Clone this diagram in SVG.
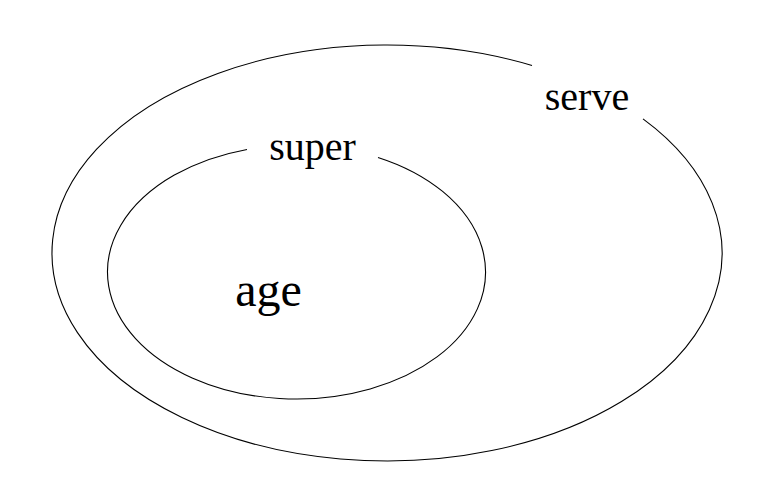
<svg xmlns="http://www.w3.org/2000/svg" width="762" height="497" viewBox="0 0 762 497">
<style>
.set{fill:none;stroke:#000;stroke-width:1.1}
.lbl{font-family:"Liberation Serif","DejaVu Serif",serif;fill:#000;text-anchor:middle}
</style>
<rect width="762" height="497" fill="#fff"/>
<g id="connectors"></g>
<g id="serve">
<path class="set" d="M 643 118.84 A 335 208 0 1 1 532 65.49"/>
<text class="lbl" x="587" y="110" font-size="40">serve</text>
</g>
<g id="super">
<path class="set" d="M 378 157.41 A 189 127 0 1 1 247 149.43"/>
<text class="lbl" x="312.5" y="160" font-size="40">super</text>
</g>
<g id="age">
<text class="lbl" x="268.5" y="306" font-size="48">age</text>
</g>
</svg>
